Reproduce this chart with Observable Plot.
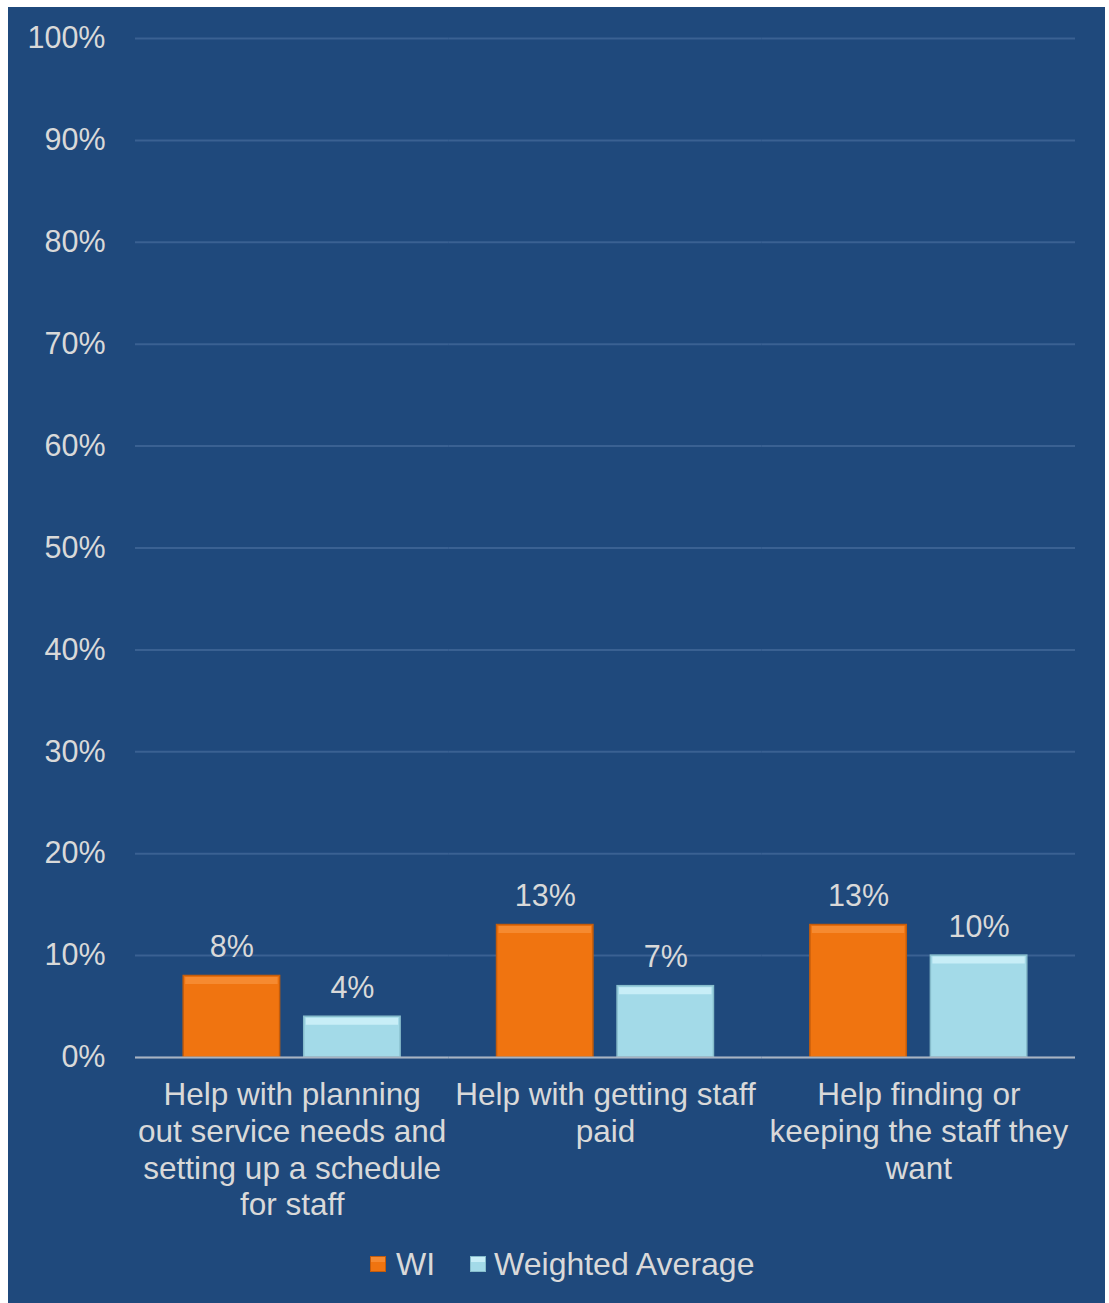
<!DOCTYPE html>
<html>
<head>
<meta charset="utf-8">
<script src="https://cdn.jsdelivr.net/npm/d3@7"></script>
<script src="https://cdn.jsdelivr.net/npm/@observablehq/plot@0.6"></script>
<style>
  body { margin: 0; background: #ffffff; font-family: "Liberation Sans", Arial, sans-serif; }
  #wrap { position: relative; width: 1109px; height: 1303px; overflow: hidden; }
  #panel { position: absolute; left: 8px; top: 7px; width: 1097px; height: 1296px; background: #1F497C; }
  #chart { position: absolute; left: 0; top: 0; }
  #legend { position: absolute; left: 370px; top: 1244px; height: 40px; display: flex; align-items: center;
            color: #D9D9D9; font-size: 32px; font-family: "Liberation Sans", Arial, sans-serif; }
  .sw { width: 16px; height: 16px; display: inline-block; box-sizing: border-box; }
</style>
</head>
<body>
<div id="wrap">
  <div id="panel"></div>
  <div id="chart"></div>
  <div id="legend"></div>
</div>
<script>
const categories = [
  "Help with planning\nout service needs and\nsetting up a schedule\nfor staff",
  "Help with getting staff\npaid",
  "Help finding or\nkeeping the staff they\nwant"
];
const series = ["WI", "Weighted Average"];
const wiValues = [0.08, 0.13, 0.13];
const waValues = [0.04, 0.07, 0.10];
const yTicks = [0, 0.1, 0.2, 0.3, 0.4, 0.5, 0.6, 0.7, 0.8, 0.9, 1.0];
const fillColors = ["#F07410", "#A3DAE8"];
const highlightColors = ["#F68A30", "#C8EEF7"];
const edgeColors = ["#C35C0C", "#86BCCB"];

const data = categories.flatMap((c, i) => [
  {cat: c, series: series[0], value: wiValues[i]},
  {cat: c, series: series[1], value: waValues[i]}
]);

const pct = d => Math.round(d * 100) + "%";
const font = "Liberation Sans, Arial, sans-serif";

const chart = Plot.plot({
  width: 1109,
  height: 1230,
  marginLeft: 135,
  marginRight: 34,
  marginTop: 38,
  marginBottom: 173,
  style: {background: "transparent", fontFamily: font, color: "#D9D9D9", overflow: "visible"},
  fx: {domain: categories, padding: 0, label: null, axis: null, round: false},
  x: {domain: series, paddingInner: 0.2, paddingOuter: 0.4, axis: null, round: false},
  y: {domain: [0, 1], axis: null},
  marks: [
    Plot.gridY(yTicks, {stroke: "#3A6192", strokeOpacity: 1, strokeWidth: 2}),
    Plot.axisY(yTicks, {tickFormat: pct, tickSize: 0, tickPadding: 30, fontSize: 30.5, fill: "#D9D9D9", label: null}),
    Plot.barY(data, {
      fx: "cat", x: "series", y: "value",
      fill: d => fillColors[series.indexOf(d.series)],
      stroke: d => edgeColors[series.indexOf(d.series)],
      strokeWidth: 1.5
    }),
    Plot.tickY(data, {
      fx: "cat", x: "series", y: "value",
      stroke: d => highlightColors[series.indexOf(d.series)],
      strokeWidth: 7, dy: 4.5, inset: 2
    }),
    Plot.text(data, {
      fx: "cat", x: "series", y: "value", text: d => pct(d.value),
      dy: -19, lineAnchor: "bottom", fontSize: 30.5, fill: "#D9D9D9"
    }),
    Plot.ruleY([0], {stroke: "#A9B4C2", strokeWidth: 2}),
    Plot.axisFx({anchor: "bottom", tickSize: 0, tickPadding: 22, fontSize: 31.5, lineHeight: 1.16, fill: "#D9D9D9", label: null})
  ]
});
document.getElementById("chart").appendChild(chart);

const legend = document.getElementById("legend");
series.forEach((s, i) => {
  const sw = document.createElement("span");
  sw.className = "sw";
  sw.style.background = `linear-gradient(to bottom, ${highlightColors[i]} 0 35%, ${fillColors[i]} 35% 100%)`;
  sw.style.border = `1px solid ${edgeColors[i]}`;
  sw.style.marginRight = i === 0 ? "10px" : "8px";
  const t = document.createElement("span");
  t.textContent = s;
  t.style.marginRight = i === 0 ? "35px" : "0";
  legend.appendChild(sw);
  legend.appendChild(t);
});
</script>
</body>
</html>
